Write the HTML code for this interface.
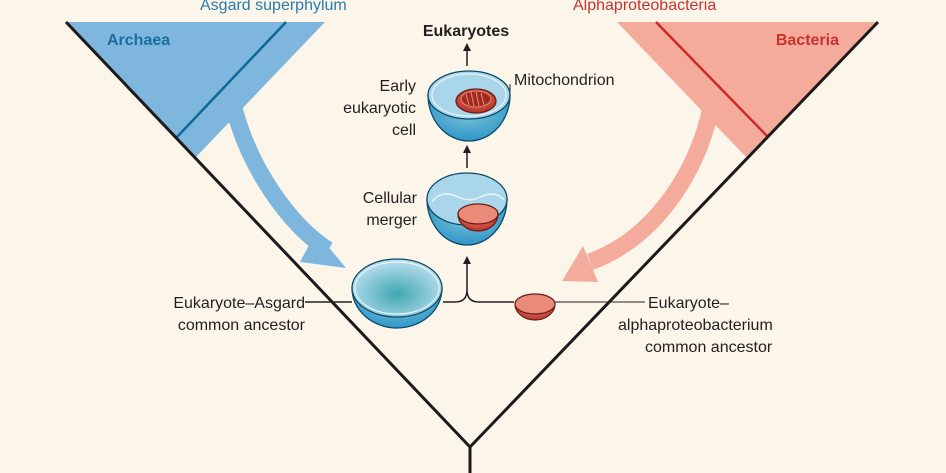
<!DOCTYPE html>
<html><head><style>
html,body{margin:0;padding:0;background:#fbf6e9;}
svg{display:block}
text{font-family:"Liberation Sans",Arial,sans-serif;font-size:16px;fill:#231f20}
</style></head><body>
<svg width="946" height="473" viewBox="0 0 946 473" xmlns="http://www.w3.org/2000/svg">
<defs>
<radialGradient id="bb" cx="50%" cy="40%" r="60%"><stop offset="0" stop-color="#7cc3d9"/><stop offset="1" stop-color="#2f95c8"/></radialGradient>
<radialGradient id="bi" cx="50%" cy="60%" r="55%"><stop offset="0" stop-color="#3fa7b3"/><stop offset="1" stop-color="#b5dcec"/></radialGradient>
<radialGradient id="rb" cx="50%" cy="40%" r="60%"><stop offset="0" stop-color="#e2705e"/><stop offset="1" stop-color="#b9322a"/></radialGradient>
</defs>
<rect width="946" height="473" fill="#fbf6e9"/>
<polygon points="66,22 325,22 196,157 " fill="#7fb6de"/>
<line x1="286" y1="22" x2="177" y2="137" stroke="#0b6a9a" stroke-width="2.5"/>
<path d="M234,108 C250,170 290,225 328,250" stroke="#7fb6de" stroke-width="17" fill="none"/>
<polygon points="316,232 346,268 300,262" fill="#7fb6de"/>
<polygon points="878,22 617,22 746,157" fill="#f5ab9b"/>
<line x1="656" y1="22" x2="768" y2="137" stroke="#cc2a2a" stroke-width="2.5"/>
<path d="M711,108 C695,180 650,240 590,262" stroke="#f5ab9b" stroke-width="17" fill="none"/>
<polygon points="583,246 562,281 598,282" fill="#f5ab9b"/>
<polyline points="66,22 470,447 878,22" stroke="#1c1a1a" stroke-width="3" fill="none"/>
<line x1="470" y1="446" x2="470" y2="473" stroke="#1c1a1a" stroke-width="3"/>
<text x="200" y="10" style="fill:#2a7aae">Asgard superphylum</text>
<text x="573" y="10" style="fill:#c8322f">Alphaproteobacteria</text>
<text x="107" y="45" style="fill:#1a6e9e;font-weight:bold">Archaea</text>
<text x="839" y="45" text-anchor="end" style="fill:#c8322f;font-weight:bold">Bacteria</text>
<text x="466" y="36" text-anchor="middle" style="font-weight:bold">Eukaryotes</text>
<g stroke="#231f20" stroke-width="1.5" fill="none">
<line x1="467" y1="66" x2="467" y2="48"/>
<line x1="467" y1="168" x2="467" y2="150"/>
<path d="M443,302 H455 Q467,302 467,290 V262 M467,290 Q467,302 479,302 H514"/>
<line x1="305" y1="302" x2="352" y2="302"/>
<line x1="555" y1="302" x2="645" y2="302" stroke-width="1"/>
<path d="M492,99 H510 V84" stroke-width="1"/>
</g>
<g fill="#231f20">
<polygon points="467,43 463,51 471,51"/>
<polygon points="467,145 463,153 471,153"/>
<polygon points="467,256 463,264 471,264"/>
</g>
<g stroke="#0c4a66" stroke-width="1.3">
<path d="M352,288 A45,40 0 0 0 442,288 Z" fill="url(#bb)"/>
<ellipse cx="397" cy="288" rx="45" ry="29" fill="url(#bi)"/>
<ellipse cx="397" cy="288" rx="42" ry="26" fill="none" stroke="#e8f4fa" stroke-width="1.2"/>
</g>
<g stroke="#0c4a66" stroke-width="1.3">
<path d="M427,199 A40,46 0 0 0 507,199 Z" fill="url(#bb)"/>
<ellipse cx="467" cy="199" rx="40" ry="26" fill="#a9d6ea"/>
<path d="M432,202 Q440,190 456,196 Q470,203 480,197 Q496,190 504,200" fill="none" stroke="#e8f4fa" stroke-width="1.5"/>
<path d="M458,214 A20,17 0 0 0 498,214 Z" fill="url(#rb)" stroke="#6a1d17"/>
<ellipse cx="478" cy="214" rx="20" ry="10" fill="#e98b78" stroke="#6a1d17"/>
</g>
<g stroke="#0c4a66" stroke-width="1.3">
<path d="M428,95 A41,46 0 0 0 510,95 Z" fill="url(#bb)"/>
<ellipse cx="469" cy="95" rx="41" ry="24" fill="#a9d6ea"/>
<ellipse cx="469" cy="95" rx="37" ry="21" fill="none" stroke="#e8f4fa" stroke-width="1.2"/>
<ellipse cx="476" cy="101" rx="20" ry="12" fill="url(#rb)" stroke="#6a1d17"/>
<ellipse cx="476" cy="99" rx="15" ry="8" fill="#9e2a22" stroke="#e98b78" stroke-width="1"/>
<path d="M466,94 L469,105 M471,92 L474,106 M476,92 L479,106 M481,93 L484,105" stroke="#e98b78" stroke-width="1"/>
</g>
<g stroke="#6a1d17" stroke-width="1.2">
<path d="M515,304 A20,16 0 0 0 555,304 Z" fill="url(#rb)"/>
<ellipse cx="535" cy="304" rx="20" ry="10" fill="#e98b78"/>
</g>
<text x="416" y="91" text-anchor="end">Early</text>
<text x="416" y="113" text-anchor="end">eukaryotic</text>
<text x="416" y="135" text-anchor="end">cell</text>
<text x="514" y="85">Mitochondrion</text>
<text x="417" y="203" text-anchor="end">Cellular</text>
<text x="417" y="225" text-anchor="end">merger</text>
<text x="305" y="308" text-anchor="end">Eukaryote–Asgard</text>
<text x="305" y="330" text-anchor="end">common ancestor</text>
<text x="648" y="308">Eukaryote–</text>
<text x="618" y="330">alphaproteobacterium</text>
<text x="645" y="352">common ancestor</text>
</svg>
</body></html>
